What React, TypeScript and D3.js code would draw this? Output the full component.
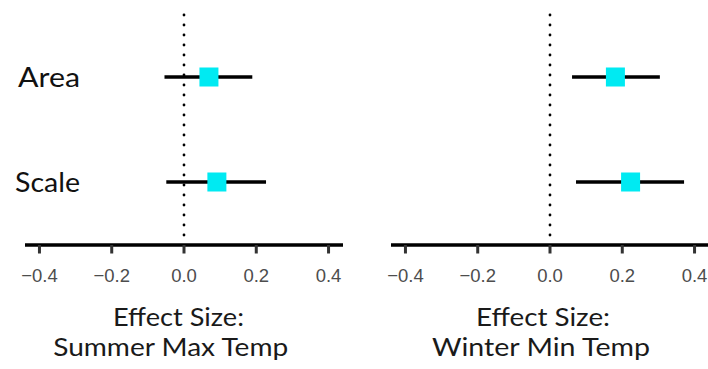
import React from "react";
import * as d3 from "d3";

const categories = ["Area", "Scale"];
const panelTitles = [["Effect Size:", "Summer Max Temp"], ["Effect Size:", "Winter Min Temp"]];
const tickValues = [-0.4, -0.2, 0.0, 0.2, 0.4];
// per panel: estimate, lower, upper for each category
const summerEst = [0.069, 0.091];
const summerLo = [-0.054, -0.049];
const summerHi = [0.189, 0.227];
const winterEst = [0.181, 0.223];
const winterLo = [0.061, 0.072];
const winterHi = [0.304, 0.371];

const panels = [
  { est: summerEst, lo: summerLo, hi: summerHi, range: [25, 343], titleX: [178.5, 170.7], titleLen: [131, 235] },
  { est: winterEst, lo: winterLo, hi: winterHi, range: [391, 709], titleX: [543, 541], titleLen: [134, 218] },
];
const labelLen = [62, 65];

const W = 708, H = 369;
const titleFont = "Lato, 'Open Sans', sans-serif";
const tickFont = "'Liberation Sans', Arial, sans-serif";
const cyan = "#00EAF2";

export default function App() {
  const y = d3.scalePoint<string>().domain(categories).range([77, 182]);
  const fmt = d3.format(".1f");
  return (
    <svg width={W} height={H} style={{ position: "absolute", left: 0, top: 0, background: "#fff" }}>
      {categories.map((c, i) => (
        <text key={c} x={80} y={(y(c) as number) + 10} textAnchor="end" fontFamily={titleFont}
          fontSize={27} fill="#111" textLength={labelLen[i]} lengthAdjust="spacingAndGlyphs">{c}</text>
      ))}
      {panels.map((p, pi) => {
        const x = d3.scaleLinear().domain([-0.44, 0.44]).range(p.range);
        return (
          <g key={pi}>
            <line x1={x(0)} x2={x(0)} y1={15} y2={236} stroke="#000" strokeWidth={2.8}
              strokeLinecap="round" strokeDasharray="0 10" />
            <line x1={p.range[0]} x2={p.range[1]} y1={245} y2={245} stroke="#000" strokeWidth={3.6} />
            {tickValues.map((t) => (
              <g key={t}>
                <line x1={x(t)} x2={x(t)} y1={245} y2={253.5} stroke="#333" strokeWidth={3} />
                <text x={x(t)} y={281.5} textAnchor="middle" fontFamily={tickFont} fontSize={18.5}
                  fill="#4D4D4D">{fmt(t).replace("-", "\u2212")}</text>
              </g>
            ))}
            {categories.map((c, i) => {
              const cy = y(c) as number;
              return (
                <g key={c}>
                  <line x1={x(p.lo[i])} x2={x(p.hi[i])} y1={cy} y2={cy} stroke="#000" strokeWidth={3.4} />
                  <rect x={x(p.est[i]) - 9.5} y={cy - 9.5} width={19} height={19} fill={cyan} />
                </g>
              );
            })}
            {panelTitles[pi].map((t, li) => (
              <text key={li} x={p.titleX[li]} y={325.7 + li * 30.5} textAnchor="middle"
                fontFamily={titleFont} fontSize={25.5} fill="#1a1a1a"
                textLength={p.titleLen[li]} lengthAdjust="spacingAndGlyphs">{t}</text>
            ))}
          </g>
        );
      })}
    </svg>
  );
}
